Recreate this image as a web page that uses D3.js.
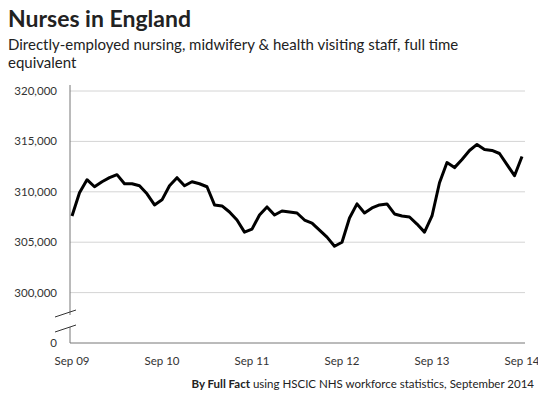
<!DOCTYPE html>
<html><head><meta charset="utf-8">
<script src="https://cdn.jsdelivr.net/npm/d3@7"></script>
<style>body{margin:0;background:#fff}svg{font-family:Lato,"Open Sans",sans-serif}</style>
</head><body><svg></svg>
<script>
const values = [307.6,309.9,311.2,310.5,311.0,311.4,311.7,310.8,310.8,310.6,309.8,308.7,
309.2,310.6,311.4,310.6,311.0,310.8,310.5,308.7,308.6,308.0,307.2,306.0,
306.3,307.7,308.5,307.7,308.1,308.0,307.9,307.2,306.9,306.2,305.5,304.6,
305.0,307.4,308.8,307.9,308.4,308.7,308.8,307.8,307.6,307.5,306.8,306.0,
307.6,310.9,312.9,312.4,313.2,314.1,314.7,314.2,314.1,313.8,312.7,311.6,313.5];
const xLabels = ['Sep 09','Sep 10','Sep 11','Sep 12','Sep 13','Sep 14'];
const yTicks = [300000,305000,310000,315000,320000];

const width = 538, height = 403;
const svg = d3.select('svg').attr('width', width).attr('height', height);

const x = d3.scaleLinear().domain([0, 60]).range([72, 522]);
const y = d3.scaleLinear().domain([295000, 320000]).range([343, 91]);

svg.append('text').attr('x', 8).attr('y', 27).attr('font-size', 23).attr('font-weight', 'bold')
  .attr('fill', '#222').text('Nurses in England');
svg.append('text').attr('x', 8).attr('y', 50).attr('font-size', 15).attr('fill', '#222')
  .text('Directly-employed nursing, midwifery & health visiting staff, full time');
svg.append('text').attr('x', 8).attr('y', 68).attr('font-size', 15).attr('fill', '#222')
  .text('equivalent');

// grid
svg.selectAll('line.grid').data(yTicks).enter().append('line')
  .attr('x1', 70).attr('x2', 525).attr('y1', d => y(d)).attr('y2', d => y(d))
  .attr('stroke', '#d4d4d4');
svg.selectAll('text.yt').data(yTicks).enter().append('text')
  .attr('x', 57).attr('y', d => y(d) + 4).attr('text-anchor', 'end')
  .attr('font-size', 11.5).attr('fill', '#333').text(d => d3.format(',')(d));
svg.append('text').attr('x', 57).attr('y', y(295000) + 4).attr('text-anchor', 'end')
  .attr('font-size', 11.5).attr('fill', '#333').text('0');

// axes
svg.append('line').attr('x1', 70).attr('x2', 70).attr('y1', 85).attr('y2', 343).attr('stroke', '#777');
svg.append('line').attr('x1', 70).attr('x2', 525).attr('y1', 343).attr('y2', 343).attr('stroke', '#777');
svg.append('rect').attr('x', 66).attr('y', 315).attr('width', 8).attr('height', 12).attr('fill', '#fff');
[313, 328].forEach(b => svg.append('line').attr('x1', 55).attr('x2', 76)
  .attr('y1', b + 4).attr('y2', b - 3).attr('stroke', '#333'));

svg.selectAll('text.xt').data(xLabels).enter().append('text')
  .attr('x', (d, i) => x(i * 12)).attr('y', 365).attr('text-anchor', 'middle')
  .attr('font-size', 11.5).attr('fill', '#333').text(d => d);

svg.append('path').datum(values)
  .attr('d', d3.line().x((d, i) => x(i)).y(d => y(d * 1000)))
  .attr('fill', 'none').attr('stroke', '#000').attr('stroke-width', 3).attr('stroke-linejoin', 'round');

const src = svg.append('text').attr('x', 534).attr('y', 388).attr('text-anchor', 'end')
  .attr('font-size', 11.5).attr('fill', '#222');
src.append('tspan').attr('font-weight', 'bold').text('By Full Fact');
src.append('tspan').text(' using HSCIC NHS workforce  statistics, September 2014');
</script></body></html>
